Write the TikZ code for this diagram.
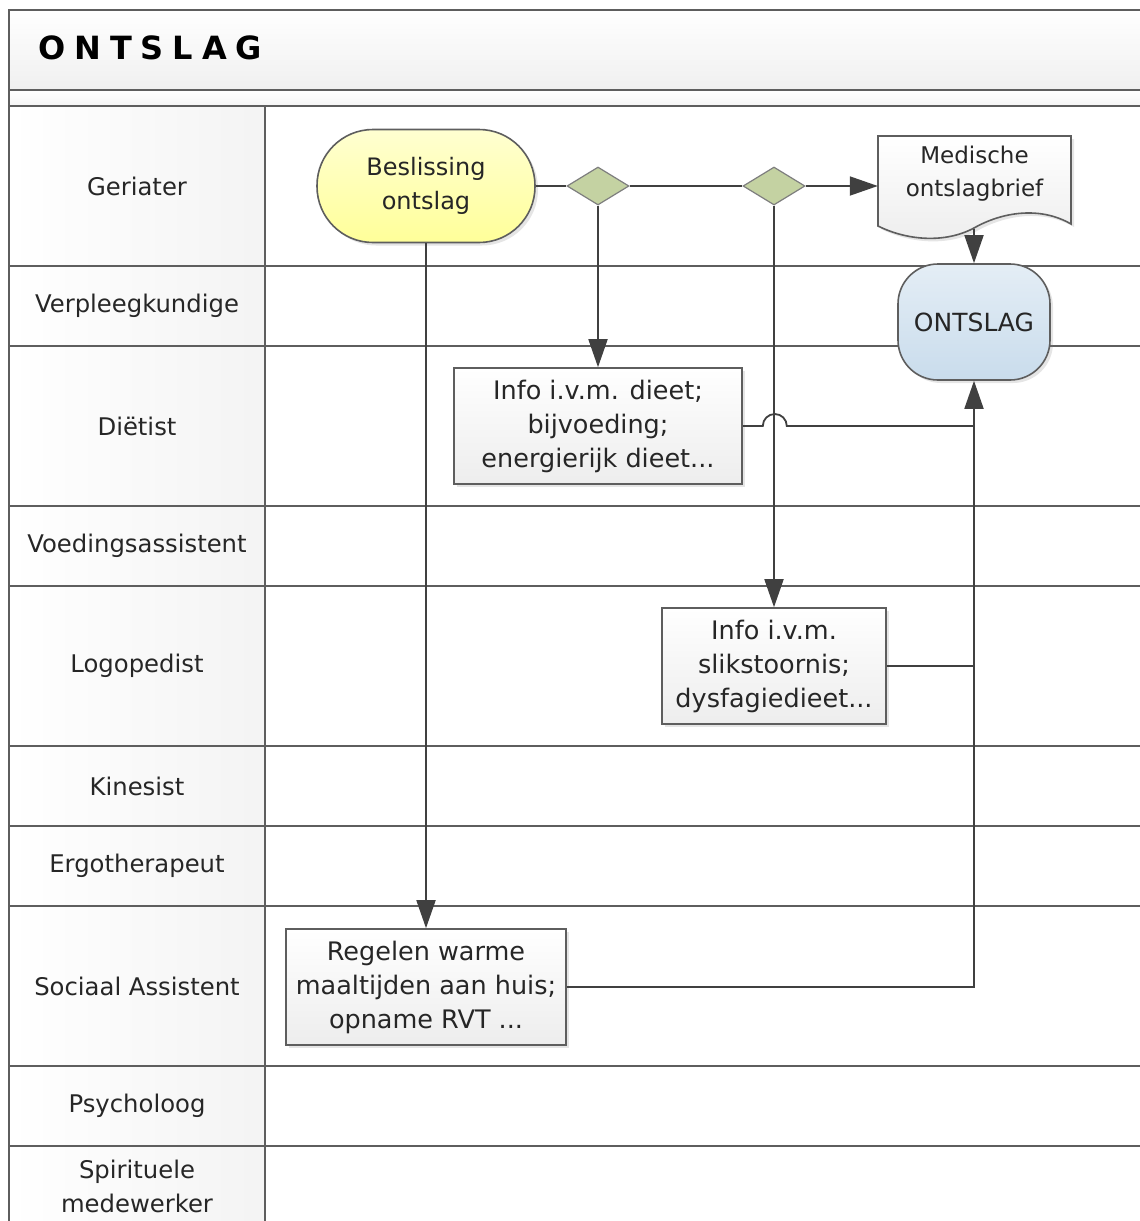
\documentclass[tikz,border=0pt]{standalone}
\usepackage{fontspec}
\setmainfont{DejaVu Sans}
\newfontfamily\titelfont[LetterSpace=28]{DejaVu Sans Bold}
\usetikzlibrary{arrows.meta,shapes.geometric,shadows}
\definecolor{lijngrijs}{HTML}{5E5E5E}
\definecolor{pijlgrijs}{HTML}{404040}
\definecolor{beslisgeel}{HTML}{FFFF99}
\definecolor{poortgroen}{HTML}{C4D2A2}
\definecolor{eindblauw}{HTML}{C9DCEC}
\tikzset{ %all lengths in px of the reference
  >={Triangle[length=28pt,width=19pt]},
  {lane line/.style} ={draw=lijngrijs,line width=2.2pt},
  {lane label/.style} ={rectangle,draw=lijngrijs,line width=2.2pt,
                  left color=white,right color=gray!9,
                  minimum width=256,align=center,text=black!85,
                  font=\fontsize{24.3}{34}\selectfont},
  {smal/.style} ={lane label,minimum height=80},
  {breed/.style} ={lane label,minimum height=160},
  {base box/.style} ={draw=lijngrijs,line width=1.6pt,align=center,
                  text=black!85,font=\fontsize{25.5}{34}\selectfont,
                  drop shadow={opacity=.2,shadow xshift=3pt,shadow yshift=-3pt}},
  {startpunt/.style} ={base box,rectangle,rounded corners=56,
                  top color=beslisgeel!45,bottom color=beslisgeel,
                  minimum width=218,minimum height=113,
                  font=\fontsize{24}{34}\selectfont},
  {eindpunt/.style} ={base box,rectangle,rounded corners=40,
                  top color=eindblauw!50,bottom color=eindblauw,
                  minimum width=152,minimum height=116,
                  font=\fontsize{25}{34}\selectfont},
  {taak/.style} ={base box,rectangle,top color=white,bottom color=gray!14,
                  minimum height=116},
  {poort/.style} ={diamond,draw=lijngrijs!80,line width=1.2pt,
                  fill=poortgroen,minimum width=62,minimum height=38,inner sep=0},
  {doc rand/.style} ={draw=lijngrijs,line width=1.6pt,
                  top color=white,bottom color=gray!14,
                  drop shadow={opacity=.2,shadow xshift=3pt,shadow yshift=-3pt}},
  {brieftekst/.style} ={minimum width=193,minimum height=90,inner sep=0,
                  align=center,text=black!85,font=\fontsize{23}{33}\selectfont},
  {link/.style} ={draw=pijlgrijs,line width=1.8pt},
  {flow/.style} ={link,->},
}

\begin{document}
\begin{tikzpicture}[x=1pt,y=-1pt]
\useasboundingbox (0,0) rectangle (1140,1221);
\clip (0,0) rectangle (1140,1221);
\fill[white] (0,0) rectangle (1140,1221);

% title band
\path[top color=white,bottom color=gray!12] (9,10) rectangle (1150,90);
\path[top color=white,bottom color=gray!8] (9,90) rectangle (1150,106);
\node[anchor=west,inner sep=0,font=\titelfont\fontsize{32}{36}\selectfont]
  (titel) at (38,48) {ONTSLAG};

% lanes
\node[breed] (geriater) at (137,186) {Geriater};
\node[smal] (verpleeg) at (137,306) {Verpleegkundige};
\node[breed] (dietist) at (137,426) {Diëtist};
\node[smal] (voeding) at (137,546) {Voedingsassistent};
\node[breed] (logo) at (137,666) {Logopedist};
\node[smal] (kine) at (137,786) {Kinesist};
\node[smal] (ergo) at (137,866) {Ergotherapeut};
\node[breed] (sociaal) at (137,986) {Sociaal Assistent};
\node[smal] (psycho) at (137,1106) {Psycholoog};
\node[smal] (spiritueel) at (137,1186) {Spirituele\\medewerker};

\draw[lane line] (9,1230) -- (9,10) -- (1150,10)
  (9,90) -- (1150,90) (9,106) -- (1150,106)
  (265,106) -- (265,1230)
  (265,266) -- (1150,266) (265,346) -- (1150,346)
  (265,506) -- (1150,506) (265,586) -- (1150,586)
  (265,746) -- (1150,746) (265,826) -- (1150,826)
  (265,906) -- (1150,906) (265,1066) -- (1150,1066)
  (265,1146) -- (1150,1146);

% steps
\node[startpunt] (beslissing) at (426,186) {Beslissing\\ontslag};
\node[poort] (keuze1) at (598,186) {};
\node[poort] (keuze2) at (774,186) {};
\path[doc rand] (878,136) -- (1071,136) -- (1071,224)
  .. controls (1040,206) and (1002,212) .. (974,228)
  .. controls (944,244) and (906,240) .. (878,226) -- cycle;
\node[brieftekst] (brief) at (974.5,174) {Medische\\ontslagbrief};
\coordinate (briefvoet) at (974,229);
\node[eindpunt] (ontslag) at (974,322) {ONTSLAG};
\node[taak,minimum width=288] (dieet) at (598,426)
  {Info i.v.m. dieet;\\bijvoeding;\\energierijk dieet...};
\node[taak,minimum width=224] (slik) at (774,666)
  {Info i.v.m.\\slikstoornis;\\dysfagiedieet...};
\node[taak,minimum width=280] (regelen) at (426,987)
  {Regelen warme\\maaltijden aan huis;\\opname RVT ...};

% connectors
\draw[link] (beslissing) -- (keuze1) (keuze1) -- (keuze2);
\draw[flow] (keuze2) -- (keuze2 -| brief.west);
\draw[flow] (keuze1) -- (dieet);
\draw[flow] (keuze2) -- (slik);
\draw[flow] (beslissing) -- (regelen);
\draw[flow] (briefvoet) -- (ontslag);
\draw[link] (dieet.east) -- ++(20,0) arc (180:360:12) -- (ontslag |- dieet.east);
\draw[link] (slik) -- (ontslag |- slik);
\draw[flow] (regelen) -- (regelen -| ontslag) -- (ontslag);
\end{tikzpicture}
\end{document}
